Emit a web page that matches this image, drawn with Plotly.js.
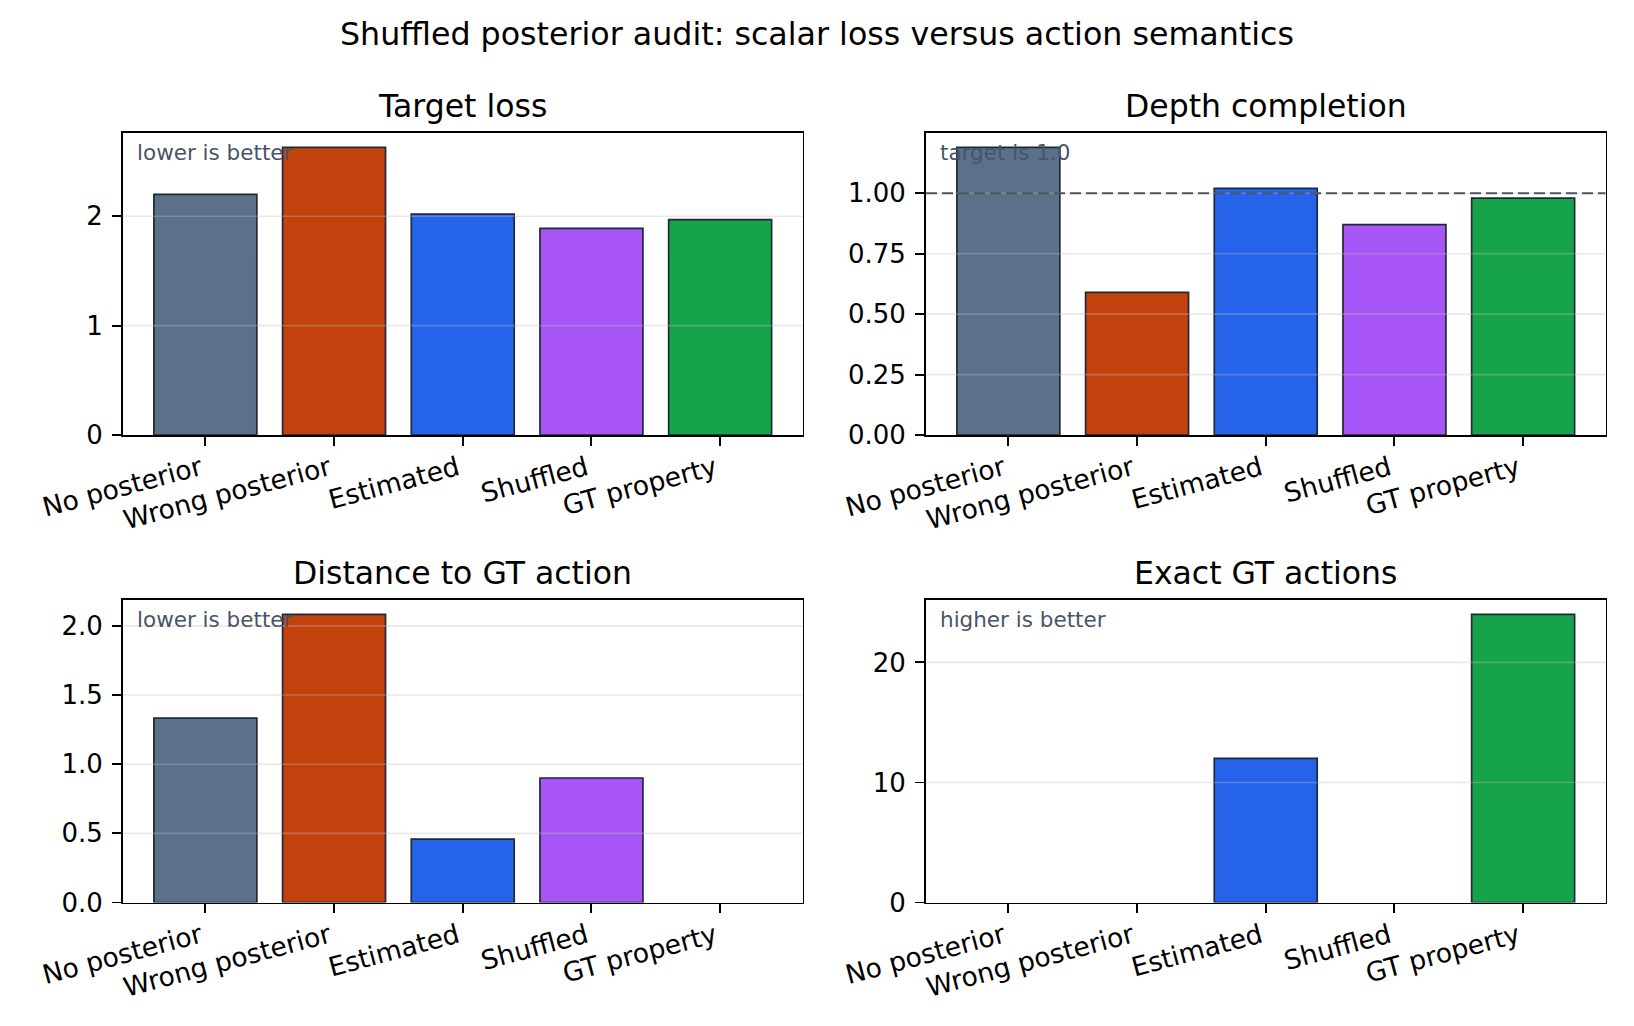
<!DOCTYPE html>
<html>
<head>
<meta charset="utf-8">
<script src="https://cdn.plot.ly/plotly-3.0.1.min.js"></script>
<style>
  html, body { margin: 0; padding: 0; background: #ffffff; }
  #chart { width: 1634px; height: 1026px; }
</style>
</head>
<body>
<div id="chart"></div>
<script>
// Conditions compared in the audit, one bar per condition in every panel
const conditions = ['No posterior', 'Wrong posterior', 'Estimated', 'Shuffled', 'GT property'];
const conditionColors = ['#5b7089', '#c2410c', '#2563eb', '#a855f7', '#16a34a'];

// Metric values per condition
const targetLoss = [2.20, 2.63, 2.02, 1.89, 1.97];
const depthCompletion = [1.19, 0.59, 1.02, 0.87, 0.98];
const distanceToGtAction = [1.333, 2.083, 0.458, 0.90, 0.0];
const exactGtActions = [0, 0, 12, 0, 24];

// Reference level for depth completion
const depthTarget = 1.0;

// Y tick values per panel
const lossTicks = [0, 1, 2];
const depthTicks = [0, 0.25, 0.5, 0.75, 1.0];
const distanceTicks = [0, 0.5, 1.0, 1.5, 2.0];
const exactTicks = [0, 10, 20];

const FONT = 'DejaVu Sans, Liberation Sans, sans-serif';
const W = 1634, H = 1026;

// Panel frames in pixels: [left, right, top, bottom]
const cols = [[123, 802.5], [926, 1605.5]];
const rows = [[133, 435], [600, 902.5]];

const panels = [
  { title: 'Target loss', note: 'lower is better', values: targetLoss, ticks: lossTicks, fmt: 'd', col: 0, row: 0 },
  { title: 'Depth completion', note: 'target is 1.0', values: depthCompletion, ticks: depthTicks, fmt: '.2f', col: 1, row: 0, refLine: depthTarget },
  { title: 'Distance to GT action', note: 'lower is better', values: distanceToGtAction, ticks: distanceTicks, fmt: '.1f', col: 0, row: 1 },
  { title: 'Exact GT actions', note: 'higher is better', values: exactGtActions, ticks: exactTicks, fmt: 'd', col: 1, row: 1 }
];

const data = [];
const layout = {
  width: W, height: H,
  margin: { l: 0, r: 0, t: 0, b: 0 },
  paper_bgcolor: '#ffffff',
  plot_bgcolor: '#ffffff',
  font: { family: FONT, color: '#000000', size: 26 },
  showlegend: false,
  bargap: 0.2,
  shapes: [],
  annotations: [
    {
      text: 'Shuffled posterior audit: scalar loss versus action semantics',
      xref: 'paper', yref: 'paper', x: 0.5, y: 1 - 34 / H,
      xanchor: 'center', yanchor: 'middle', showarrow: false,
      font: { family: FONT, size: 31.7, color: '#000000' }
    }
  ]
};

panels.forEach((p, i) => {
  const n = i === 0 ? '' : String(i + 1);
  const xName = 'x' + n, yName = 'y' + n;
  const [l, r] = cols[p.col];
  const [t, b] = rows[p.row];

  data.push({
    type: 'bar',
    x: conditions,
    y: p.values,
    xaxis: xName,
    yaxis: yName,
    width: 0.8,
    marker: {
      color: conditionColors,
      // empty bars get no outline so nothing shows along the baseline
      line: { color: '#1f2937', width: p.values.map(v => (v === 0 ? 0 : 1.7)) }
    },
    hoverinfo: 'skip'
  });

  const axisCommon = {
    showline: true, linecolor: '#000000', linewidth: 1.9, mirror: true,
    ticks: 'outside', ticklen: 9, tickwidth: 1.9, tickcolor: '#000000',
    showgrid: false, zeroline: false, fixedrange: true,
    layer: 'above traces',
    tickfont: { family: FONT, size: 26, color: '#000000' }
  };

  layout['xaxis' + n] = Object.assign({}, axisCommon, {
    domain: [l / W, r / W],
    anchor: yName,
    type: 'category',
    range: [-0.64, conditions.length - 1 + 0.64],
    tickangle: -15,
    ticklabelshift: -5,
    ticklabelstandoff: -3,
    tickfont: { family: FONT, size: 26.6, color: '#000000' }
  });

  const yMax = Math.max(...p.values) * 1.05;
  layout['yaxis' + n] = Object.assign({}, axisCommon, {
    domain: [1 - b / H, 1 - t / H],
    anchor: xName,
    range: [0, yMax],
    tickmode: 'array',
    tickvals: p.ticks,
    tickformat: p.fmt,
    ticklabelstandoff: 4
  });

  // Light horizontal grid drawn over the bars
  p.ticks.forEach(v => {
    if (v <= 0 || v >= yMax) return;
    layout.shapes.push({
      type: 'line', xref: xName + ' domain', yref: yName,
      x0: 0, x1: 1, y0: v, y1: v,
      line: { color: 'rgba(190,190,190,0.35)', width: 1.6 },
      layer: 'above'
    });
  });

  if (p.refLine !== undefined) {
    layout.shapes.push({
      type: 'line', xref: xName + ' domain', yref: yName,
      x0: 0, x1: 1, y0: p.refLine, y1: p.refLine,
      line: { color: '#4b5563', width: 2, dash: '11px,5px' },
      layer: 'above'
    });
  }

  // Panel title
  layout.annotations.push({
    text: p.title,
    xref: xName + ' domain', yref: yName + ' domain',
    x: 0.5, y: 1, xanchor: 'center', yanchor: 'middle', yshift: 27,
    showarrow: false,
    font: { family: FONT, size: 31.5, color: '#000000' }
  });

  // Reading hint in the top-left corner
  layout.annotations.push({
    text: p.note,
    xref: xName + ' domain', yref: yName + ' domain',
    x: 0.02, y: 0.97, xanchor: 'left', yanchor: 'top', xshift: -2, yshift: 4,
    showarrow: false,
    font: { family: FONT, size: 21.5, color: '#475569' }
  });
});

Plotly.newPlot('chart', data, layout, { displayModeBar: false, staticPlot: true });
</script>
</body>
</html>
